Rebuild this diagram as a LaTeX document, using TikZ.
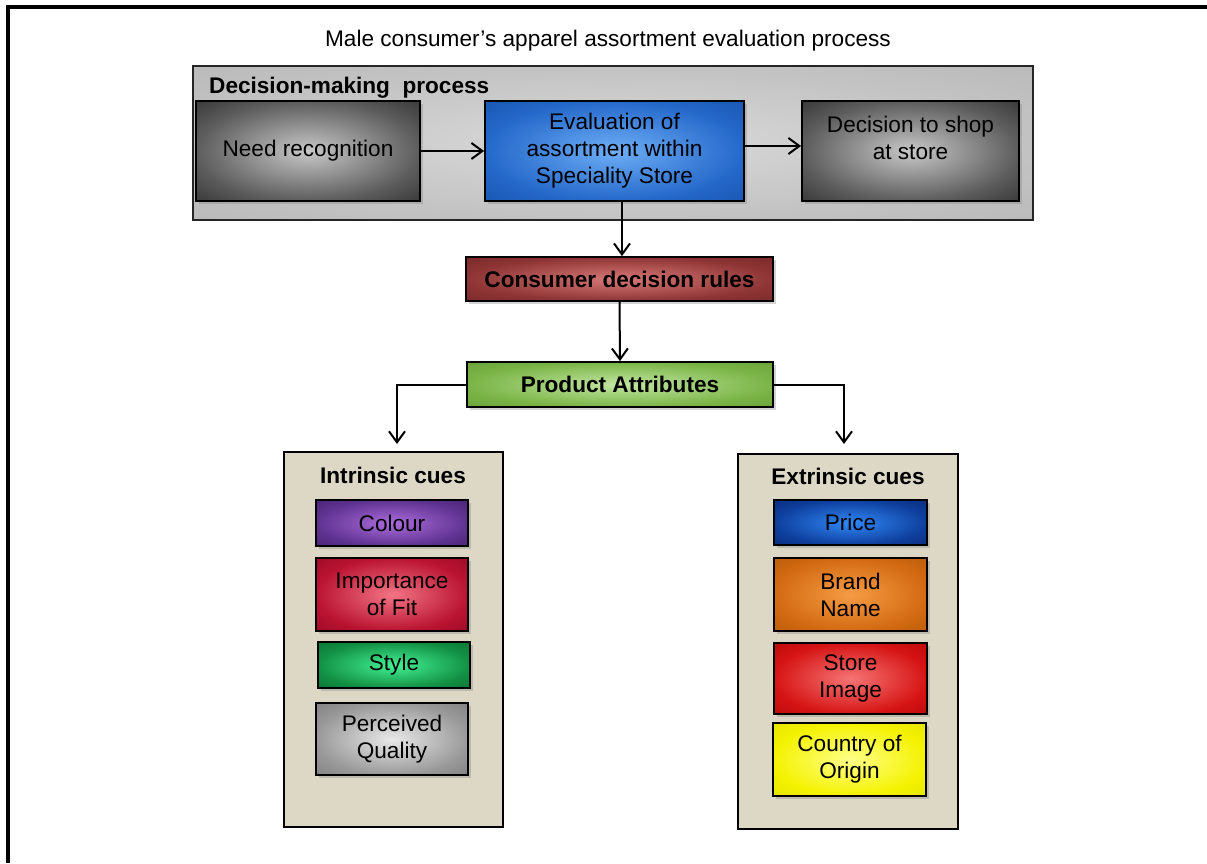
\documentclass[tikz,border=0pt]{standalone}
\usepackage{fontspec}
\setmainfont{Liberation Sans}
\usetikzlibrary{arrows.meta,shadows}

\newcommand{\mkshade}[4]{\pgfdeclareradialshading{#1}{\pgfpoint{0bp}{0bp}}{color(0bp)=(#2);color(25bp)=(#3);color(36bp)=(#4);color(50bp)=(#4)}}

\definecolor{gIn}{HTML}{C8C8C8}\definecolor{gOut}{HTML}{5C5C5C}\definecolor{gCor}{HTML}{383838}
\definecolor{bIn}{HTML}{6EAEF6}\definecolor{bOut}{HTML}{2468CA}\definecolor{bCor}{HTML}{1A56B0}
\definecolor{cIn}{HTML}{DADADA}\definecolor{cOut}{HTML}{C2C2C2}\definecolor{cCor}{HTML}{BABABA}
\definecolor{rIn}{HTML}{D87878}\definecolor{rOut}{HTML}{8E3434}\definecolor{rCor}{HTML}{7A2A2A}
\definecolor{pIn}{HTML}{C2E6A2}\definecolor{pOut}{HTML}{7AB446}\definecolor{pCor}{HTML}{6AA23A}
\definecolor{vIn}{HTML}{AC6CDC}\definecolor{vOut}{HTML}{5E3290}\definecolor{vCor}{HTML}{4A2476}
\definecolor{mIn}{HTML}{F27484}\definecolor{mOut}{HTML}{BA1432}\definecolor{mCor}{HTML}{9E0A26}
\definecolor{sIn}{HTML}{44F294}\definecolor{sOut}{HTML}{129044}\definecolor{sCor}{HTML}{0A7634}
\definecolor{qIn}{HTML}{E8E8E8}\definecolor{qOut}{HTML}{999999}\definecolor{qCor}{HTML}{828282}
\definecolor{eIn}{HTML}{3088F6}\definecolor{eOut}{HTML}{0E3E9C}\definecolor{eCor}{HTML}{0A2E7E}
\definecolor{oIn}{HTML}{F69C44}\definecolor{oOut}{HTML}{D26A12}\definecolor{oCor}{HTML}{BC5C0A}
\definecolor{tIn}{HTML}{F67474}\definecolor{tOut}{HTML}{D61414}\definecolor{tCor}{HTML}{BC0A0A}
\definecolor{yIn}{HTML}{FFFF88}\definecolor{yOut}{HTML}{F4F200}\definecolor{yCor}{HTML}{E6E400}
\definecolor{panel}{HTML}{DDD8C6}

\mkshade{shGray}{gIn}{gOut}{gCor}
\mkshade{shBlue}{bIn}{bOut}{bCor}
\mkshade{shCont}{cIn}{cOut}{cCor}
\mkshade{shRed}{rIn}{rOut}{rCor}
\mkshade{shPA}{pIn}{pOut}{pCor}
\mkshade{shViolet}{vIn}{vOut}{vCor}
\mkshade{shCrimson}{mIn}{mOut}{mCor}
\mkshade{shGreen}{sIn}{sOut}{sCor}
\mkshade{shSilver}{qIn}{qOut}{qCor}
\mkshade{shPrice}{eIn}{eOut}{eCor}
\mkshade{shOrange}{oIn}{oOut}{oCor}
\mkshade{shStore}{tIn}{tOut}{tCor}
\mkshade{shYellow}{yIn}{yOut}{yCor}

\tikzset{
  txt/.style={font=\fontsize{22.6}{27}\selectfont, align=center, text=black},
  boldtxt/.style={font=\fontsize{22.6}{27}\selectfont\bfseries, text=black},
  cbox/.style={draw=black, line width=1.8pt, inner sep=0pt, txt,
    drop shadow={opacity=0.35, shadow xshift=3pt, shadow yshift=-3pt}},
  panelbox/.style={draw=black, line width=1.6pt, fill=panel, inner sep=0pt},
  arr/.style={line width=2pt, -{Straight Barb[length=11pt,width=16pt,line width=2pt]}}
}

\begin{document}
\begin{tikzpicture}[x=1pt,y=-1pt]
\useasboundingbox (0,0) rectangle (1207,863);

% outer frame (top and left edges)
\draw[line width=4pt] (8,863) -- (8,7) -- (1207,7);

% title
\node[txt] (title) at (608,41) {Male consumer’s apparel assortment evaluation process};

% decision-making container
\node[draw=black!85, line width=1.6pt, shading=shCont, minimum width=840pt, minimum height=154pt, inner sep=0pt] (cont) at (613,143) {};
\node[boldtxt, anchor=west, inner sep=0pt] (contlbl) at (209,88) {Decision-making\ \ process};

\node[cbox, shading=shGray, minimum width=224pt, minimum height=100pt] (need) at (308,151) {Need recognition};
\node[cbox, shading=shBlue, minimum width=259pt, minimum height=100pt] (eval) at (614.5,151) {Evaluation of\\assortment within\\Speciality Store};
\node[cbox, shading=shGray, minimum width=217pt, minimum height=100pt] (dec) at (910.5,151) {Decision to shop\\at store\\\mbox{}};

\node[cbox, shading=shRed, minimum width=307pt, minimum height=44pt, font=\fontsize{22.6}{27}\selectfont\bfseries] (cdr) at (619.5,279) {Consumer decision rules};
\node[cbox, shading=shPA, minimum width=306pt, minimum height=45pt, font=\fontsize{22.6}{27}\selectfont\bfseries] (pa) at (620,384.5) {Product Attributes};

% panels
\node[panelbox, minimum width=219pt, minimum height=375pt] (lp) at (393.5,639.5) {};
\node[panelbox, minimum width=220pt, minimum height=375pt] (rp) at (848,641.5) {};
\node[boldtxt] (lpt) at (393,475) {Intrinsic cues};
\node[boldtxt] (rpt) at (848,476) {Extrinsic cues};

% intrinsic cues
\node[cbox, shading=shViolet, minimum width=152pt, minimum height=46pt] (colour) at (392,523) {Colour};
\node[cbox, shading=shCrimson, minimum width=152pt, minimum height=73pt] (fit) at (392,594.5) {Importance\\of Fit};
\node[cbox, shading=shGreen, minimum width=152pt, minimum height=46pt] (style) at (394,665) {Style};
\node[cbox, shading=shSilver, minimum width=152pt, minimum height=72pt] (qual) at (392,739) {Perceived\\Quality};

% extrinsic cues
\node[cbox, shading=shPrice, minimum width=153pt, minimum height=45pt] (price) at (850.5,522.5) {Price};
\node[cbox, shading=shOrange, minimum width=153pt, minimum height=73pt] (brand) at (850.5,594.5) {Brand\\Name};
\node[cbox, shading=shStore, minimum width=153pt, minimum height=71pt] (store) at (850.5,678.5) {Store\\Image};
\node[cbox, shading=shYellow, minimum width=153pt, minimum height=73pt] (country) at (849.5,759.5) {Country of\\Origin};

% connectors
\draw[arr] (need.east) -- (eval.west |- need.east);
\draw[arr] (eval.east |- 0,146) -- (dec.west |- 0,146);
\draw[arr] (eval.south -| 622,0) -- (cdr.north -| 622,0);
\draw[arr] (cdr.south) -- (pa.north);
\coordinate (la) at (397,444);
\coordinate (ra) at (844,444);
\draw[arr] (pa.west) -| (la);
\draw[arr] (pa.east) -| (ra);
\end{tikzpicture}
\end{document}
